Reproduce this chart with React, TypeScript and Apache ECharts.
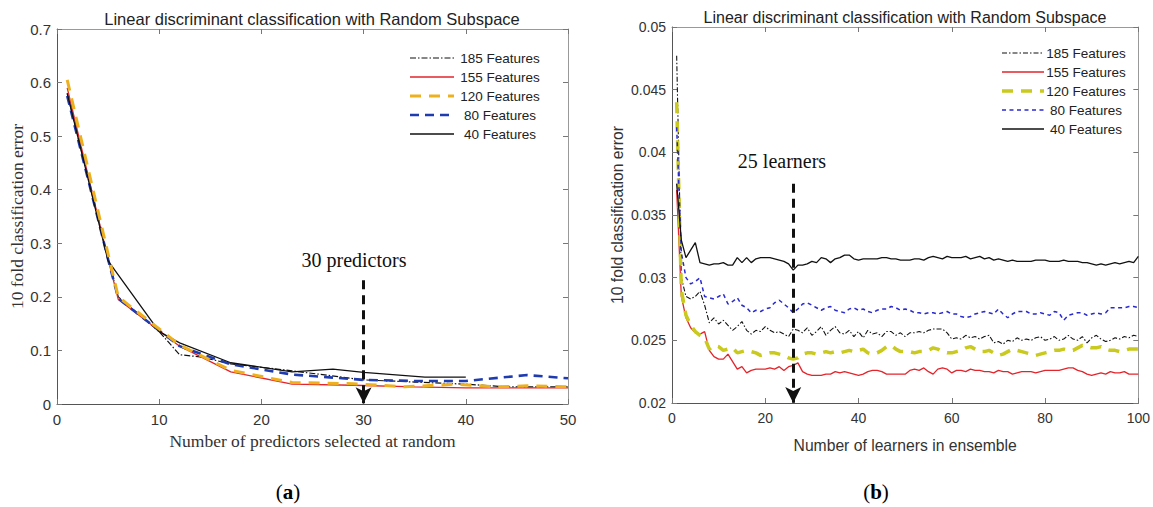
import React, { useEffect, useRef } from "react";
import * as echarts from "echarts";

// ---------- Panel (a): error vs number of predictors ----------
const predX185 = [1, 5, 6, 10, 12, 14, 17, 23, 30, 35, 40, 44, 50];
const predY185 = [0.58, 0.27, 0.2, 0.135, 0.092, 0.088, 0.075, 0.062, 0.045, 0.041, 0.037, 0.032, 0.032];
const predX155 = [1, 5, 6, 12, 17, 23, 29, 35, 40, 50];
const predY155 = [0.59, 0.27, 0.195, 0.108, 0.06, 0.037, 0.035, 0.032, 0.03, 0.03];
const predX120 = [1, 5, 6, 12, 17, 23, 29, 34, 37, 39, 43, 46, 50];
const predY120 = [0.605, 0.28, 0.2, 0.11, 0.063, 0.04, 0.038, 0.032, 0.035, 0.037, 0.032, 0.034, 0.032];
const predX80 = [1, 5, 6, 10, 12, 17, 23, 30, 35, 40, 46, 50];
const predY80 = [0.575, 0.27, 0.197, 0.137, 0.108, 0.074, 0.055, 0.045, 0.043, 0.043, 0.054, 0.048];
const predX40 = [1, 5, 10, 12, 17, 23, 27, 30, 36, 40];
const predY40 = [0.58, 0.267, 0.135, 0.114, 0.077, 0.06, 0.065, 0.059, 0.05, 0.05];

// ---------- Panel (b): error vs number of learners (1..100) ----------
const learners = Array.from({ length: 100 }, (_, i) => i + 1);
const learnY185 = [
  0.0477, 0.03, 0.0285, 0.0283, 0.0285, 0.0289, 0.0278, 0.0264, 0.0268, 0.0263,
  0.0266, 0.0262, 0.0258, 0.0261, 0.0265, 0.0258, 0.0255, 0.0258, 0.0257, 0.0261,
  0.0258, 0.0256, 0.0257, 0.0255, 0.0253, 0.0259, 0.0258, 0.0256, 0.026, 0.0254,
  0.0257, 0.0261, 0.0254, 0.0258, 0.0261, 0.0256, 0.0255, 0.0258, 0.0253, 0.0257,
  0.0252, 0.0258, 0.0255, 0.0256, 0.0253, 0.0257, 0.0257, 0.0254, 0.0256, 0.0253,
  0.0256, 0.0256, 0.0257, 0.0256, 0.0258, 0.0259, 0.0259, 0.0259, 0.0256, 0.0251,
  0.0252, 0.0251, 0.0254, 0.0252, 0.0253, 0.0251, 0.0253, 0.0254, 0.0248, 0.0249,
  0.0247, 0.025, 0.0249, 0.0252, 0.025, 0.0251, 0.025, 0.0252, 0.0253, 0.025,
  0.0251, 0.0253, 0.025, 0.0251, 0.0254, 0.0251, 0.025, 0.0253, 0.0248, 0.0252,
  0.0254, 0.0251, 0.0249, 0.025, 0.0252, 0.0251, 0.0253, 0.0252, 0.0254, 0.0253,
];
const learnY155 = [
  0.037, 0.0285, 0.0268, 0.026, 0.0256, 0.0255, 0.0257, 0.0242, 0.0237, 0.0235,
  0.0235, 0.0239, 0.0233, 0.0227, 0.0229, 0.0224, 0.0226, 0.0227, 0.0227, 0.0227,
  0.0228, 0.0227, 0.0229, 0.0226, 0.0229, 0.023, 0.0232, 0.0225, 0.0223, 0.0222,
  0.0222, 0.0222, 0.0223, 0.0223, 0.0225, 0.0224, 0.0225, 0.0224, 0.0223, 0.0222,
  0.0223, 0.0225, 0.0226, 0.0226, 0.0225, 0.0223, 0.0223, 0.0223, 0.0223, 0.0223,
  0.0226, 0.0227, 0.0226, 0.0228, 0.0225, 0.0223, 0.0227, 0.0228, 0.0227, 0.0224,
  0.0226, 0.0226, 0.0225, 0.0227, 0.0226, 0.0226, 0.0225, 0.0225, 0.0224, 0.0226,
  0.0225, 0.0225, 0.0223, 0.0224, 0.0225, 0.0225, 0.0225, 0.0224, 0.0225, 0.0226,
  0.0226, 0.0226, 0.0226, 0.0227, 0.0228, 0.0228, 0.0226, 0.0225, 0.0223, 0.0222,
  0.0223, 0.0224, 0.0223, 0.0225, 0.0224, 0.0224, 0.0225, 0.0223, 0.0223, 0.0223,
];
const learnY120 = [
  0.044, 0.029, 0.027, 0.0262, 0.0257, 0.0254, 0.0252, 0.0243, 0.0246, 0.0245,
  0.0242, 0.0243, 0.0244, 0.024, 0.0241, 0.0242, 0.0241, 0.024, 0.0238, 0.0239,
  0.024, 0.024, 0.0239, 0.0238, 0.0236, 0.0235, 0.0236, 0.0239, 0.024, 0.024,
  0.0239, 0.024, 0.0241, 0.024, 0.0241, 0.024, 0.0241, 0.0242, 0.0241, 0.0242,
  0.0243, 0.024, 0.0239, 0.024, 0.0242, 0.0245, 0.0246, 0.0243, 0.0241, 0.0241,
  0.0241, 0.024, 0.0241, 0.0241, 0.0242, 0.0244, 0.0243, 0.0241, 0.024, 0.024,
  0.0241, 0.0242, 0.0244, 0.0245, 0.0243, 0.0241, 0.0241, 0.0242, 0.024, 0.0238,
  0.0239, 0.0241, 0.0243, 0.0242, 0.0241, 0.024, 0.0239, 0.0238, 0.0239, 0.024,
  0.0241, 0.0242, 0.0242, 0.0243, 0.0242, 0.0242, 0.0244, 0.0246, 0.0245, 0.0244,
  0.0244, 0.0245, 0.0243, 0.0242, 0.0242, 0.0241, 0.0242, 0.0243, 0.0243, 0.0243,
];
const learnY80 = [
  0.042, 0.032, 0.03, 0.0295, 0.0297, 0.03, 0.0285, 0.0284, 0.0283, 0.0285,
  0.0287, 0.0279, 0.0281, 0.0284, 0.0278, 0.0276, 0.0272, 0.0274, 0.0273, 0.0275,
  0.0276, 0.028, 0.0282, 0.0279, 0.0276, 0.0272, 0.0275, 0.0279, 0.028, 0.0278,
  0.0276, 0.0274, 0.0276, 0.0277, 0.0274, 0.0273, 0.0272, 0.0275, 0.0276, 0.0274,
  0.0275, 0.0273, 0.0272, 0.0274, 0.0275, 0.0275, 0.0277, 0.0276, 0.0274, 0.0275,
  0.0274, 0.0272, 0.0272, 0.0271, 0.0272, 0.0272, 0.0271, 0.0272, 0.0273, 0.0271,
  0.0271, 0.0269, 0.0268, 0.0269, 0.0271, 0.0272, 0.0273, 0.0272, 0.0271, 0.0275,
  0.0271, 0.0268, 0.0271, 0.0273, 0.0273, 0.0273, 0.0271, 0.0271, 0.0272, 0.0271,
  0.027, 0.0273, 0.0272, 0.0266, 0.027, 0.0271, 0.0272, 0.0272, 0.027, 0.0271,
  0.0272, 0.0271, 0.0272, 0.0276, 0.0276, 0.0276, 0.0276, 0.0277, 0.0277, 0.0276,
];
const learnY40 = [
  0.0375, 0.033, 0.0316, 0.0322, 0.0328, 0.0312, 0.0311, 0.031, 0.0311, 0.0311,
  0.0312, 0.031, 0.031, 0.0316, 0.0312, 0.0316, 0.0312, 0.0315, 0.0316, 0.0316,
  0.0316, 0.0315, 0.0314, 0.0313, 0.0311, 0.0306, 0.031, 0.031, 0.0311, 0.0313,
  0.0312, 0.0316, 0.0315, 0.0312, 0.0315, 0.0316, 0.0318, 0.0318, 0.0315, 0.0314,
  0.0315, 0.0315, 0.0315, 0.0315, 0.0316, 0.0316, 0.0315, 0.0315, 0.0314, 0.0314,
  0.0314, 0.0315, 0.0315, 0.0314, 0.0316, 0.0317, 0.0316, 0.0315, 0.0317, 0.0316,
  0.0316, 0.0316, 0.0317, 0.0315, 0.0316, 0.0317, 0.0315, 0.0316, 0.0314, 0.0315,
  0.0314, 0.0313, 0.0314, 0.0313, 0.0313, 0.0313, 0.0313, 0.0314, 0.0314, 0.0314,
  0.0313, 0.0313, 0.0313, 0.0314, 0.0313, 0.0313, 0.0313, 0.0312, 0.0312, 0.0311,
  0.031, 0.0311, 0.031, 0.0311, 0.0312, 0.0311, 0.0312, 0.0313, 0.0312, 0.0317,
];

const featureNames = ["185 Features", "155 Features", "120 Features", "80 Features", "40 Features"];
const chartTitle = "Linear discriminant classification with Random Subspace";

const SANS = "'Liberation Sans', Arial, Helvetica, sans-serif";
const SERIF = "'Liberation Serif', 'Times New Roman', serif";

const BLACK = "#111111";
const RED = "#e3252b";
const ORANGE = "#edb120";
const OLIVE = "#c9c91e";
const BLUE_A = "#1f3bb0";
const BLUE_B = "#2a2ad0";

const styleA = [
  { color: BLACK, width: 1.2, type: [6, 2, 1.5, 2] },
  { color: RED, width: 1.3, type: "solid" },
  { color: ORANGE, width: 3, type: [11, 8] },
  { color: BLUE_A, width: 2.6, type: [9, 6] },
  { color: BLACK, width: 1.3, type: "solid" },
];
const styleB = [
  { color: BLACK, width: 1.1, type: [5, 2, 1.5, 2] },
  { color: RED, width: 1.3, type: "solid" },
  { color: OLIVE, width: 3.5, type: [11, 8] },
  { color: BLUE_B, width: 1.5, type: [4, 3.5] },
  { color: BLACK, width: 1.3, type: "solid" },
];

function pairs(xs: number[], ys: number[]) {
  return xs.map((x, i) => [x, ys[i]]);
}

function frameAxes(gridIndex: number, kind: "x" | "y", min: number, max: number, interval: number) {
  const tick = { show: true, inside: true, length: 5, lineStyle: { color: "#777" } };
  const main = {
    type: "value",
    gridIndex,
    min,
    max,
    interval,
    axisLine: { show: true, lineStyle: { color: "#555", width: 1 } },
    axisTick: tick,
    splitLine: { show: false },
    axisLabel: {
      show: true,
      color: "#333",
      fontFamily: SANS,
      fontSize: gridIndex === 0 ? 15 : 14,
      margin: kind === "x" ? 8 : 6,
    },
  };
  const opposite = {
    type: "value",
    gridIndex,
    min,
    max,
    interval,
    position: kind === "x" ? "top" : "right",
    axisLine: { show: true, onZero: false, lineStyle: { color: "#999", width: 1 } },
    axisTick: tick,
    splitLine: { show: false },
    axisLabel: { show: false },
  };
  return [main, opposite];
}

function legendGraphics(x0: number, x1: number, textX: number, ys: number[], styles: any[], fontSize: number) {
  const out: any[] = [];
  featureNames.forEach((name, i) => {
    const st = styles[i];
    out.push({
      type: "line",
      silent: true,
      shape: { x1: x0, y1: ys[i], x2: x1, y2: ys[i] },
      style: {
        stroke: st.color,
        lineWidth: st.width,
        lineDash: Array.isArray(st.type) ? st.type : null,
      },
    });
    out.push({
      type: "text",
      silent: true,
      x: textX,
      y: ys[i],
      style: {
        text: name,
        fill: "#222",
        font: `${fontSize}px ${SANS}`,
        textAlign: "center",
        textVerticalAlign: "middle",
      },
    });
  });
  return out;
}

export default function App() {
  const ref = useRef<HTMLDivElement>(null);

  useEffect(() => {
    if (!ref.current) return;
    const chart = echarts.init(ref.current, undefined, { renderer: "svg" });

    const [xa0, xa1] = frameAxes(0, "x", 0, 50, 10);
    const [xb0, xb1] = frameAxes(1, "x", 0, 100, 20);
    const [ya0, ya1] = frameAxes(0, "y", 0, 0.7, 0.1);
    const [yb0, yb1] = frameAxes(1, "y", 0.02, 0.05, 0.005);

    Object.assign(xa0, {
      name: "Number of predictors selected at random",
      nameLocation: "middle",
      nameGap: 27,
      nameTextStyle: { fontFamily: SERIF, fontSize: 17.5, color: "#333" },
    });
    Object.assign(xb0, {
      name: "Number of learners in ensemble",
      nameLocation: "middle",
      nameGap: 34,
      nameTextStyle: { fontFamily: SANS, fontSize: 15.7, color: "#333" },
    });
    Object.assign(ya0, {
      name: "10 fold classification error",
      nameLocation: "middle",
      nameGap: 31,
      nameTextStyle: { fontFamily: SERIF, fontSize: 17.5, color: "#333" },
    });
    Object.assign(yb0, {
      name: "10 fold classification error",
      nameLocation: "middle",
      nameGap: 47,
      nameTextStyle: { fontFamily: SANS, fontSize: 15.7, color: "#333" },
    });

    const leftData = [
      pairs(predX185, predY185),
      pairs(predX155, predY155),
      pairs(predX120, predY120),
      pairs(predX80, predY80),
      pairs(predX40, predY40),
    ];
    const rightData = [learnY185, learnY155, learnY120, learnY80, learnY40].map((ys) => pairs(learners, ys));

    const arrowStyle = { color: BLACK, width: 3, type: [9, 6] };

    const seriesA = featureNames.map((name, i) => ({
      name,
      type: "line",
      xAxisIndex: 0,
      yAxisIndex: 0,
      data: leftData[i],
      showSymbol: false,
      symbol: "none",
      lineStyle: { ...styleA[i] },
      z: i === 2 ? 3 : 2,
      silent: true,
      ...(i === 4
        ? {
            markLine: {
              silent: true,
              symbol: ["none", "arrow"],
              symbolSize: [12, 16],
              label: { show: false },
              lineStyle: arrowStyle,
              data: [[{ coord: [30, 0.231] }, { coord: [30, 0.0015] }]],
            },
          }
        : {}),
    }));
    const seriesB = featureNames.map((name, i) => ({
      name,
      type: "line",
      xAxisIndex: 2,
      yAxisIndex: 2,
      data: rightData[i],
      showSymbol: false,
      symbol: "none",
      lineStyle: { ...styleB[i] },
      silent: true,
      ...(i === 4
        ? {
            markLine: {
              silent: true,
              symbol: ["none", "arrow"],
              symbolSize: [12, 16],
              label: { show: false },
              lineStyle: arrowStyle,
              data: [[{ coord: [26, 0.0375] }, { coord: [26, 0.02] }]],
            },
          }
        : {}),
    }));

    const graphics: any[] = [
      {
        type: "text",
        silent: true,
        x: 312,
        y: 19,
        style: { text: chartTitle, fill: "#222", font: `16.5px ${SANS}`, textAlign: "center", textVerticalAlign: "middle" },
      },
      {
        type: "text",
        silent: true,
        x: 905,
        y: 17,
        style: { text: chartTitle, fill: "#222", font: `16px ${SANS}`, textAlign: "center", textVerticalAlign: "middle" },
      },
      {
        type: "text",
        silent: true,
        x: 354,
        y: 260,
        style: { text: "30 predictors", fill: "#111", font: `20px ${SERIF}`, textAlign: "center", textVerticalAlign: "middle" },
      },
      {
        type: "text",
        silent: true,
        x: 782,
        y: 161,
        style: { text: "25 learners", fill: "#111", font: `20px ${SERIF}`, textAlign: "center", textVerticalAlign: "middle" },
      },
      {
        type: "text",
        silent: true,
        x: 288,
        y: 492,
        style: {
          text: "{p|(}{b|a}{p|)}",
          textAlign: "center",
          textVerticalAlign: "middle",
          rich: {
            p: { fontFamily: SERIF, fontSize: 21, color: "#111" },
            b: { fontFamily: SERIF, fontSize: 21, fontWeight: "bold", color: "#111" },
          },
        },
      },
      {
        type: "text",
        silent: true,
        x: 876,
        y: 492,
        style: {
          text: "{p|(}{b|b}{p|)}",
          textAlign: "center",
          textVerticalAlign: "middle",
          rich: {
            p: { fontFamily: SERIF, fontSize: 21, color: "#111" },
            b: { fontFamily: SERIF, fontSize: 21, fontWeight: "bold", color: "#111" },
          },
        },
      },
      ...legendGraphics(410, 454, 500, [58, 77, 96, 115, 134], styleA, 13.5),
      ...legendGraphics(1002, 1044, 1086, [53, 72, 91, 110, 129], styleB, 13.5),
    ];

    chart.setOption({
      animation: false,
      backgroundColor: "#ffffff",
      grid: [
        { left: 57, top: 29, width: 511, height: 375, containLabel: false },
        { left: 672, top: 27, width: 467, height: 376, containLabel: false },
      ],
      xAxis: [xa0, xa1, xb0, xb1],
      yAxis: [ya0, ya1, yb0, yb1],
      series: [...seriesA, ...seriesB],
      graphic: graphics,
    });

    return () => chart.dispose();
  }, []);

  return (
    <div
      ref={ref}
      style={{ position: "absolute", left: 0, top: 0, width: 1153, height: 507, background: "#fff" }}
    />
  );
}
